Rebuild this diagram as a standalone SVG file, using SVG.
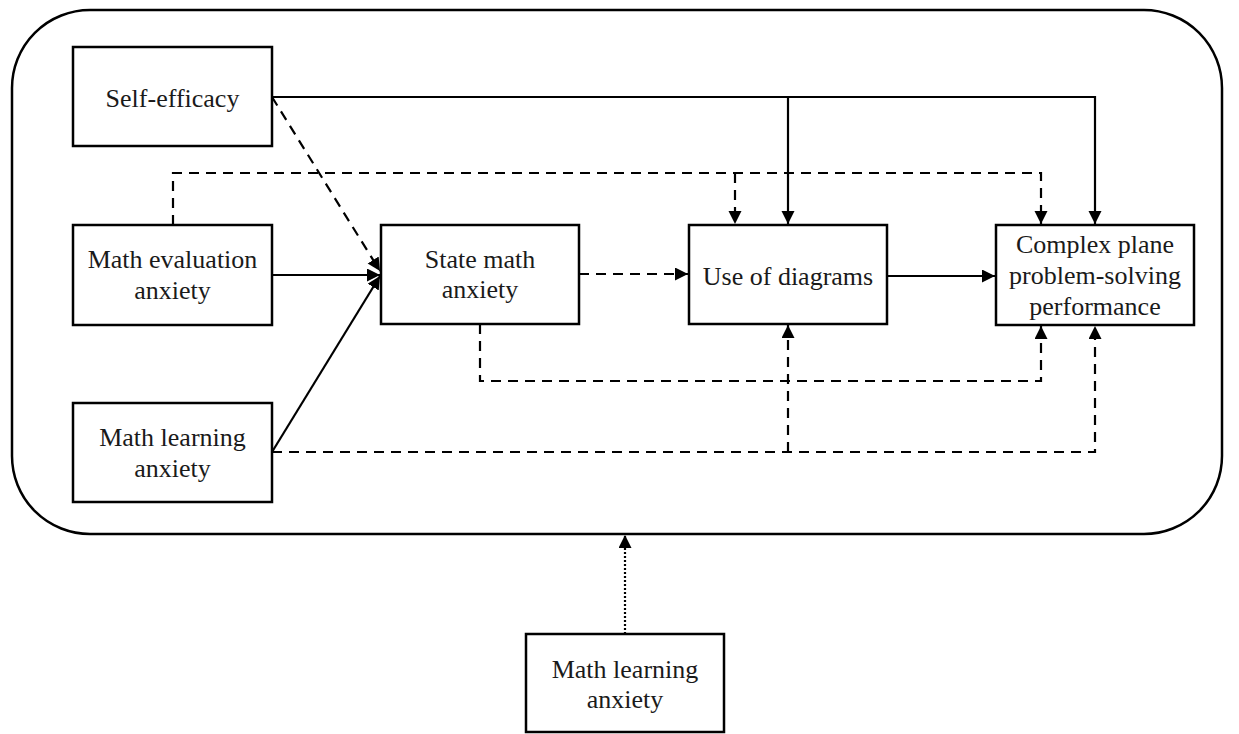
<svg xmlns="http://www.w3.org/2000/svg" width="1239" height="734" viewBox="0 0 1239 734">
<style>
.box{fill:#fff;stroke:#000;stroke-width:2.5}
.lbl{font-family:"Liberation Serif","Times New Roman",serif;font-size:26px;fill:#1a1a1a;text-anchor:middle}
.c{fill:none;stroke:#000;stroke-width:2.2}
.d{stroke-dasharray:10 7}
.o{stroke-dasharray:2 2}
</style>
<defs>
<marker id="ah" markerUnits="userSpaceOnUse" markerWidth="14" markerHeight="14" refX="13" refY="6.5" orient="auto">
<path d="M0,0 L13,6.5 L0,13 z" fill="#000"/>
</marker>
</defs>
<rect x="12" y="10" width="1210" height="524" rx="78" ry="78" fill="none" stroke="#000" stroke-width="2.5"/>
<g id="connectors">
<path class="c" d="M272,97 H1095 V224" marker-end="url(#ah)"/>
<path class="c" d="M788,97 V224" marker-end="url(#ah)"/>
<path class="c d" d="M272,97 L380,271" marker-end="url(#ah)"/>
<path class="c" d="M272,275 H380" marker-end="url(#ah)"/>
<path class="c" d="M272,452 L380,276" marker-end="url(#ah)"/>
<path class="c d" d="M173,225 V173 H1041 V224" marker-end="url(#ah)"/>
<path class="c d" d="M735,173 V224" marker-end="url(#ah)"/>
<path class="c d" d="M579,274 H688" marker-end="url(#ah)"/>
<path class="c" d="M887,276 H995" marker-end="url(#ah)"/>
<path class="c d" d="M480,324 V381 H1041 V326" marker-end="url(#ah)"/>
<path class="c d" d="M272,452 H1095 V326" marker-end="url(#ah)"/>
<path class="c d" d="M788,452 V325" marker-end="url(#ah)"/>
<path class="c o" d="M625,634 V535" marker-end="url(#ah)"/>
</g>
<g id="self-efficacy">
<rect class="box" x="73" y="47" width="199" height="99"/>
<text class="lbl" x="172.5" y="107">Self-efficacy</text>
</g>
<g id="math-evaluation-anxiety">
<rect class="box" x="73" y="225" width="199" height="100"/>
<text class="lbl" x="172.5" y="268">Math evaluation</text>
<text class="lbl" x="172.5" y="299">anxiety</text>
</g>
<g id="math-learning-anxiety">
<rect class="box" x="73" y="403" width="199" height="99"/>
<text class="lbl" x="172.5" y="446">Math learning</text>
<text class="lbl" x="172.5" y="477">anxiety</text>
</g>
<g id="state-math-anxiety">
<rect class="box" x="381" y="225" width="198" height="99"/>
<text class="lbl" x="480" y="268">State math</text>
<text class="lbl" x="480" y="298">anxiety</text>
</g>
<g id="use-of-diagrams">
<rect class="box" x="689" y="225" width="198" height="99"/>
<text class="lbl" x="788" y="285">Use of diagrams</text>
</g>
<g id="complex-plane">
<rect class="box" x="996" y="225" width="198" height="100"/>
<text class="lbl" x="1095" y="253">Complex plane</text>
<text class="lbl" x="1095" y="284">problem-solving</text>
<text class="lbl" x="1095" y="315">performance</text>
</g>
<g id="math-learning-anxiety-moderator">
<rect class="box" x="526" y="634" width="198" height="98"/>
<text class="lbl" x="625" y="678">Math learning</text>
<text class="lbl" x="625" y="708">anxiety</text>
</g>
</svg>
